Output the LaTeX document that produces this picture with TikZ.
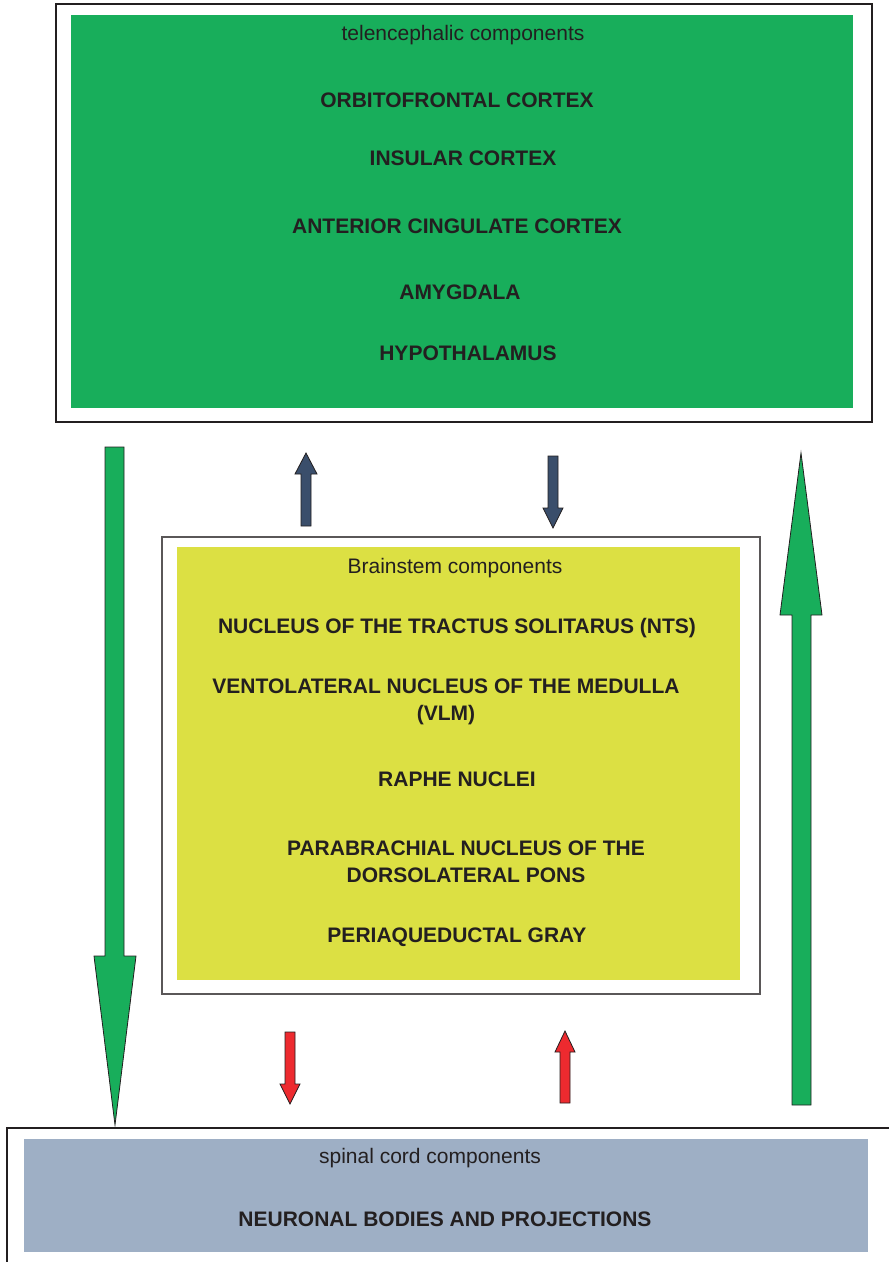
\documentclass[tikz,border=0pt]{standalone}
\usepackage{fontspec}
\setmainfont{Liberation Sans}
\usepackage{xcolor}
\definecolor{telegreen}{RGB}{24,174,91}
\definecolor{stemyellow}{RGB}{220,224,67}
\definecolor{cordblue}{RGB}{158,175,197}
\definecolor{navyarrow}{RGB}{58,78,107}
\definecolor{redarrow}{RGB}{237,42,47}
\definecolor{inkdark}{RGB}{35,31,32}

\begin{document}
\begin{tikzpicture}[x=1pt,y=-1pt,
  head/.style={font=\fontsize{21}{25}\selectfont,text=inkdark},
  region/.style={font=\fontsize{21}{27}\selectfont\bfseries,text=inkdark,align=center},
  blockarrow/.style={draw=inkdark,line width=0.8pt,line join=miter}]

\useasboundingbox (0,0) rectangle (889,1262);

\draw[inkdark,line width=2.6pt] (56,4) rectangle (872,422);
\fill[telegreen] (71,15) rectangle (853,408);
\node[head] (telehead) at (463,35) {telencephalic components};
\node[region] (orbito) at (457,100) {ORBITOFRONTAL CORTEX};
\node[region] (insula) at (463,158) {INSULAR CORTEX};
\node[region] (cingulate) at (457,226) {ANTERIOR CINGULATE CORTEX};
\node[region] (amygdala) at (460,292) {AMYGDALA};
\node[region] (hypothal) at (468,353) {HYPOTHALAMUS};

\draw[inkdark!75,line width=1.4pt] (162,537) rectangle (760,994);
\fill[stemyellow] (177,547) rectangle (740,980);
\node[head] (stemhead) at (455,568) {Brainstem components};
\node[region] (nts) at (457,628) {NUCLEUS OF THE TRACTUS SOLITARUS (NTS)};
\node[region] (vlm) at (446,702) {VENTOLATERAL NUCLEUS OF THE MEDULLA\\(VLM)};
\node[region] (raphe) at (457,779) {RAPHE NUCLEI};
\node[region] (parabrach) at (466,862) {PARABRACHIAL NUCLEUS OF THE\\DORSOLATERAL PONS};
\node[region] (pag) at (457,937) {PERIAQUEDUCTAL GRAY};

\draw[inkdark,line width=1.4pt] (7,1262) -- (7,1128) -- (889,1128);
\fill[cordblue] (24,1139) rectangle (868,1252);
\node[head] (cordhead) at (430,1158) {spinal cord components};
\node[region] (neurons) at (445,1219) {NEURONAL BODIES AND PROJECTIONS};

\filldraw[blockarrow,fill=telegreen] (105,447) -- (124,447) -- (124,956) -- (136,956)
  -- (115,1125) -- (94,956) -- (105,956) -- cycle;
\filldraw[blockarrow,fill=telegreen] (792,1105) -- (811,1105) -- (811,615) -- (822,615)
  -- (801,453) -- (780,615) -- (792,615) -- cycle;

\filldraw[blockarrow,fill=navyarrow] (301,526) -- (311,526) -- (311,474) -- (317,474)
  -- (306,453) -- (295,474) -- (301,474) -- cycle;
\filldraw[blockarrow,fill=navyarrow] (548,456) -- (558,456) -- (558,508) -- (563,508)
  -- (553,528) -- (543,508) -- (548,508) -- cycle;

\filldraw[blockarrow,fill=redarrow] (285,1032) -- (295,1032) -- (295,1084) -- (300,1084)
  -- (290,1104) -- (280,1084) -- (285,1084) -- cycle;
\filldraw[blockarrow,fill=redarrow] (560,1103) -- (570,1103) -- (570,1052) -- (575,1052)
  -- (565,1031) -- (555,1052) -- (560,1052) -- cycle;

\end{tikzpicture}
\end{document}
